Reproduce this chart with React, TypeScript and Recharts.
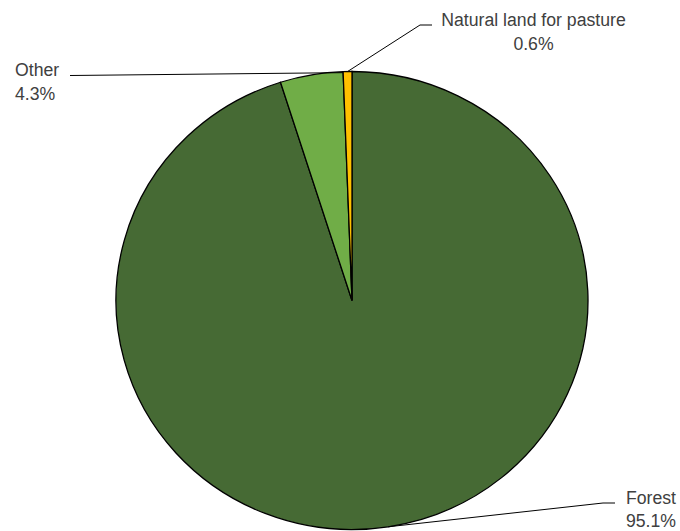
import React from 'react';
import { PieChart, Pie, Cell } from 'recharts';

// land use shares
const categories = ['Forest', 'Other', 'Natural land for pasture'];
const shares = [95.1, 4.3, 0.6];
const shareLabels = ['95.1%', '4.3%', '0.6%'];
const colors = ['#466A34', '#70AD47', '#FFC000'];

const data = categories.map((name, i) => ({ name, value: shares[i], label: shareLabels[i] }));

const CX = 352;
const CY = 300.5;
const RADIUS = 236;
const Y_SCALE = 229 / 236; // the original pie is a touch squashed vertically
const RAD = Math.PI / 180;
const FONT = "'Liberation Sans Narrow', 'Arial Narrow', 'Liberation Sans', sans-serif";
const TEXT = '#404040';
const TEXT_SX = 0.93; // original font is narrower than what we have

const pointAt = (cx: number, cy: number, r: number, angle: number) => ({
  x: cx + r * Math.cos(-angle * RAD),
  y: cy + r * Y_SCALE * Math.sin(-angle * RAD),
});

const Txt = ({ x, y, anchor, children }: { x: number; y: number; anchor: 'start' | 'middle' | 'end'; children: React.ReactNode }) => (
  <text
    transform={`translate(${x} ${y}) scale(${TEXT_SX} 1)`}
    textAnchor={anchor}
    fontFamily={FONT}
    fontSize={19}
    fill={TEXT}
  >
    {children}
  </text>
);

const renderLabel = (props: any) => {
  const { cx, cy, outerRadius, midAngle, endAngle, index, payload } = props;
  const name = categories[index];
  const pct = payload?.label ?? shareLabels[index];

  if (index === 0) {
    // Forest: label lower right
    const a = pointAt(cx, cy, outerRadius, midAngle);
    return (
      <g key="lbl-0">
        <polyline points={`${a.x},${a.y} 603,503 615,503`} fill="none" stroke="#000" strokeWidth={1} />
        <Txt x={676} y={504} anchor="end">{name}</Txt>
        <Txt x={676} y={527} anchor="end">{pct}</Txt>
      </g>
    );
  }
  if (index === 1) {
    // Other: label upper left, leader runs to slice edge
    const a = pointAt(cx, cy, outerRadius, endAngle);
    return (
      <g key="lbl-1">
        <polyline points={`70,75.5 ${a.x},${a.y + 1}`} fill="none" stroke="#000" strokeWidth={1} />
        <Txt x={15} y={76} anchor="start">{name}</Txt>
        <Txt x={15} y={100} anchor="start">{pct}</Txt>
      </g>
    );
  }
  const a = pointAt(cx, cy, outerRadius, midAngle);
  return (
    <g key="lbl-2">
      <polyline points={`${a.x},${a.y} 420,25 432,25`} fill="none" stroke="#000" strokeWidth={1} />
      <Txt x={533.5} y={26} anchor="middle">{name}</Txt>
      <Txt x={533.5} y={50} anchor="middle">{pct}</Txt>
    </g>
  );
};

export default function App() {
  return (
    <div style={{ position: 'absolute', left: 0, top: 0, width: 680, height: 531, background: '#fff' }}>
      <style>{`.recharts-pie-sector { transform-origin: ${CX}px ${CY}px; transform: scaleY(${Y_SCALE}); }`}</style>
      <PieChart width={680} height={531} margin={{ top: 0, right: 0, bottom: 0, left: 0 }}>
        <Pie
          data={data}
          dataKey="value"
          nameKey="name"
          cx={CX}
          cy={CY}
          outerRadius={RADIUS}
          startAngle={90}
          endAngle={-270}
          stroke="#000"
          strokeWidth={1.3}
          label={renderLabel}
          labelLine={false}
          isAnimationActive={false}
        >
          {data.map((d, i) => (
            <Cell key={d.name} fill={colors[i]} />
          ))}
        </Pie>
      </PieChart>
    </div>
  );
}
